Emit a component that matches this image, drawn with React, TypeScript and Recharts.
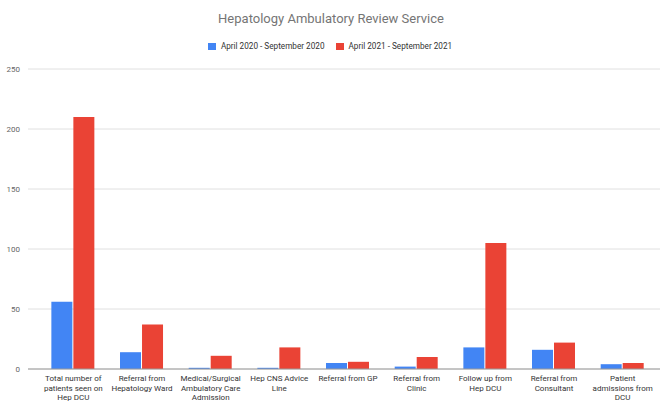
import React from 'react';
import { BarChart, Bar, XAxis, YAxis, CartesianGrid, Legend } from 'recharts';

// tick labels, line breaks where the reference wraps them
const categories = [
    'Total number of\npatients seen on\nHep DCU',
    'Referral from\nHepatology Ward',
    'Medical/Surgical\nAmbulatory Care\nAdmission',
    'Hep CNS Advice\nLine',
    'Referral from GP',
    'Referral from\nClinic',
    'Follow up from\nHep DCU',
    'Referral from\nConsultant',
    'Patient\nadmissions from\nDCU',
];
const period2020 = [56, 14, 1, 1, 5, 2, 18, 16, 4];
const period2021 = [210, 37, 11, 18, 6, 10, 105, 22, 5];
const yTicks = [0, 50, 100, 150, 200, 250];

const seriesNames = ['April 2020 - September 2020', 'April 2021 - September 2021'];
const colors = ['#4285F4', '#EA4335'];

const data = categories.map((c, i) => ({ name: c, a: period2020[i], b: period2021[i] }));

const FONT = 'Roboto, Arial, sans-serif';

const WrappedTick = (props: any) => {
    const { x, y, payload } = props;
    const lines = String(payload.value).split('\n');
    return (
        <text x={x} y={y + 4} textAnchor="middle" fontFamily={FONT} fontSize={8} fill="#333">
            {lines.map((l, i) => (
                <tspan key={i} x={x} dy={i === 0 ? 0 : 9.6}>{l}</tspan>
            ))}
        </text>
    );
};

const LegendContent = () => (
    <div style={{ display: 'flex', justifyContent: 'center', fontFamily: FONT, fontSize: 8.2, color: '#333', height: 20, alignItems: 'center' }}>
        {seriesNames.map((n, i) => (
            <span key={n} style={{ display: 'flex', alignItems: 'center', marginRight: i === 0 ? 11 : 0 }}>
                <span style={{ width: 8, height: 7, background: colors[i], display: 'inline-block', marginRight: 5 }} />
                {n}
            </span>
        ))}
    </div>
);

export default function App() {
    return (
        <div style={{ position: 'fixed', left: 0, top: 0, width: 662, height: 405, background: '#fff' }}>
            <div style={{ position: 'absolute', top: 11, width: 662, textAlign: 'center', fontFamily: FONT, fontSize: 13, color: '#757575' }}>
                Hepatology Ambulatory Review Service
            </div>
            <BarChart width={662} height={405} data={data} margin={{ top: 49, right: 2, bottom: 0, left: 0 }} barCategoryGap="18%" barGap={1}>
                <Legend verticalAlign="top" align="center" content={<LegendContent />} wrapperStyle={{ top: 36 }} />
                <CartesianGrid vertical={false} stroke="#e0e0e0" />
                <XAxis dataKey="name" interval={0} height={36} tickLine={false} axisLine={{ stroke: '#999', strokeWidth: 1.2 }} tick={<WrappedTick />} padding={{ left: 11, right: 3 }} />
                <YAxis width={28} domain={[0, 250]} ticks={yTicks} tickLine={false} axisLine={false} tickSize={6} tick={{ fontFamily: FONT, fontSize: 8, fill: '#666' }} />
                <Bar dataKey="a" name={seriesNames[0]} fill={colors[0]} isAnimationActive={false} />
                <Bar dataKey="b" name={seriesNames[1]} fill={colors[1]} isAnimationActive={false} />
            </BarChart>
        </div>
    );
}
